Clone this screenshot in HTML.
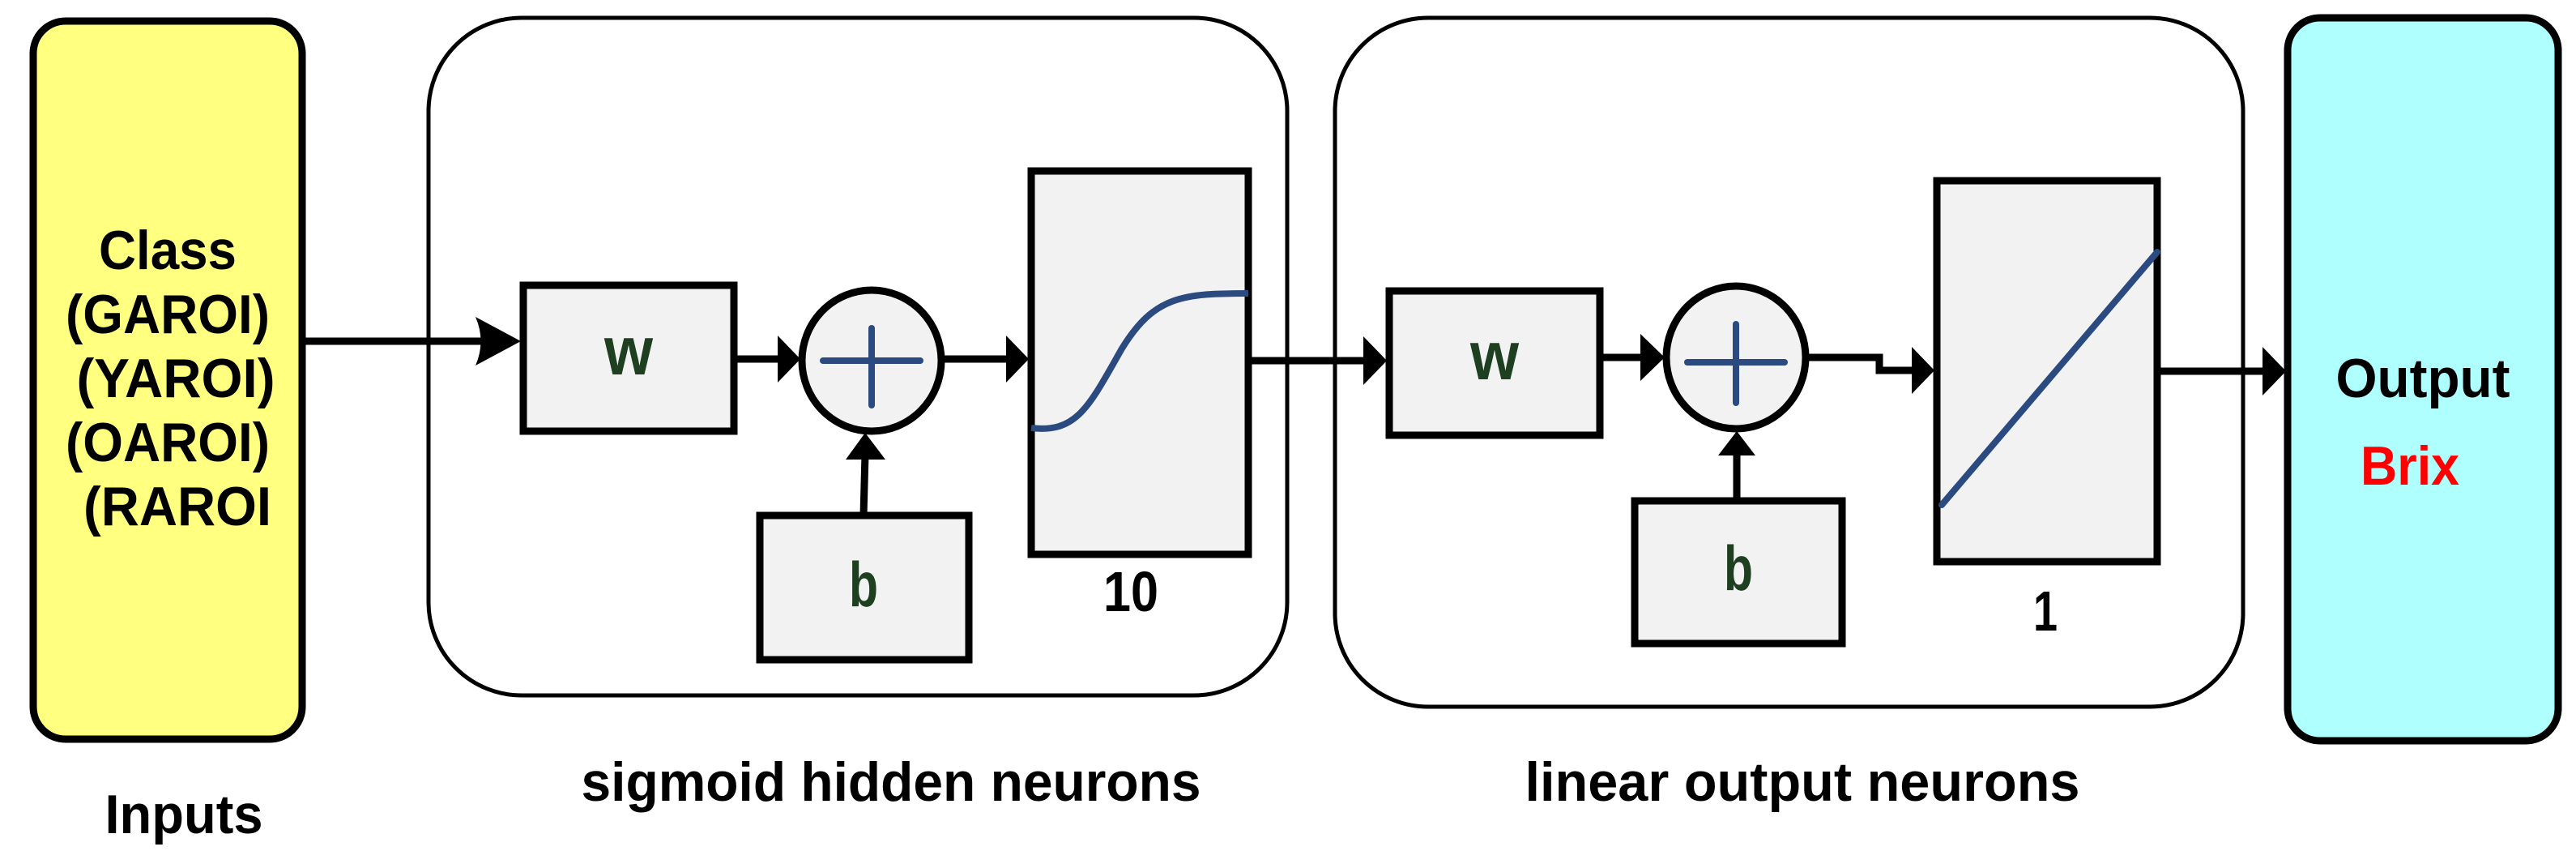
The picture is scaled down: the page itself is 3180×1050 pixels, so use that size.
<!DOCTYPE html>
<html><head><style>html,body{margin:0;padding:0;background:#fff}svg{display:block}</style></head>
<body>
<svg width="3180" height="1050" viewBox="0 0 3180 1050" xmlns="http://www.w3.org/2000/svg" font-family="Liberation Sans, Arial, sans-serif" font-weight="bold">
<!-- Input box -->
<rect x="41" y="26" width="332" height="886" rx="40" fill="#ffff80" stroke="#000" stroke-width="9"/>
<g font-size="68" text-anchor="middle" fill="#000">
<text x="207" y="332" textLength="170" lengthAdjust="spacingAndGlyphs">Class</text>
<text x="207" y="411" textLength="252" lengthAdjust="spacingAndGlyphs">(GAROI)</text>
<text x="217" y="490" textLength="245" lengthAdjust="spacingAndGlyphs">(YAROI)</text>
<text x="207" y="569" textLength="252" lengthAdjust="spacingAndGlyphs">(OAROI)</text>
<text x="219" y="648" textLength="232" lengthAdjust="spacingAndGlyphs">(RAROI</text>
<text x="227" y="1028" textLength="195" lengthAdjust="spacingAndGlyphs">Inputs</text>
<text x="1100" y="988" textLength="765" lengthAdjust="spacingAndGlyphs">sigmoid hidden neurons</text>
<text x="2225" y="988" textLength="685" lengthAdjust="spacingAndGlyphs">linear output neurons</text>
</g>
<!-- containers -->
<rect x="529" y="22" width="1060" height="836" rx="115" fill="none" stroke="#000" stroke-width="5"/>
<rect x="1648" y="22" width="1121" height="850" rx="115" fill="none" stroke="#000" stroke-width="5"/>
<!-- Output box -->
<rect x="2824" y="22" width="334" height="892" rx="40" fill="#b0ffff" stroke="#000" stroke-width="9"/>
<text x="2991" y="490" font-size="68" text-anchor="middle" textLength="215" lengthAdjust="spacingAndGlyphs">Output</text>
<text x="2975" y="598" font-size="68" text-anchor="middle" fill="#ff0000" textLength="122" lengthAdjust="spacingAndGlyphs">Brix</text>

<!-- hidden layer -->
<line x1="373" y1="421" x2="600" y2="421" stroke="#000" stroke-width="9"/>
<path d="M643 421 L587 391 Q600 421 587 451 Z" fill="#000"/>
<rect x="646" y="352" width="260" height="180" fill="#f2f2f2" stroke="#000" stroke-width="9"/>
<text x="776" y="462" font-size="84" text-anchor="middle" fill="#1e4020" textLength="60" lengthAdjust="spacingAndGlyphs">w</text>
<line x1="906" y1="443" x2="960" y2="443" stroke="#000" stroke-width="9"/>
<path d="M988 443 L960 414 L960 472 Z" fill="#000"/>
<ellipse cx="1076" cy="445" rx="86" ry="87" fill="#f2f2f2" stroke="#000" stroke-width="9"/>
<line x1="1016" y1="445" x2="1136" y2="445" stroke="#2a4a80" stroke-width="8" stroke-linecap="round"/>
<line x1="1076" y1="405" x2="1076" y2="500" stroke="#2a4a80" stroke-width="8" stroke-linecap="round"/>
<rect x="938" y="636" width="258" height="178" fill="#f2f2f2" stroke="#000" stroke-width="9"/>
<text x="1066" y="748" font-size="78" text-anchor="middle" fill="#1e4020" textLength="36" lengthAdjust="spacingAndGlyphs">b</text>
<line x1="1066" y1="636" x2="1068" y2="560" stroke="#000" stroke-width="9"/>
<path d="M1068 534 L1044 567 L1093 567 Z" fill="#000"/>
<line x1="1163" y1="443" x2="1242" y2="443" stroke="#000" stroke-width="9"/>
<path d="M1270 443 L1242 414 L1242 472 Z" fill="#000"/>
<rect x="1273" y="211" width="268" height="473" fill="#f2f2f2" stroke="#000" stroke-width="9"/>
<path d="M1273 528 C1330 535 1345 500 1385 430 C1425 365 1460 362 1541 362" fill="none" stroke="#2a4a80" stroke-width="8"/>
<text x="1396" y="754" font-size="70" text-anchor="middle" textLength="68" lengthAdjust="spacingAndGlyphs">10</text>

<!-- output layer -->
<line x1="1541" y1="445" x2="1686" y2="445" stroke="#000" stroke-width="9"/>
<path d="M1712 445 L1683 415 L1683 475 Z" fill="#000"/>
<rect x="1715" y="359" width="260" height="178" fill="#f2f2f2" stroke="#000" stroke-width="9"/>
<text x="1845" y="468" font-size="84" text-anchor="middle" fill="#1e4020" textLength="60" lengthAdjust="spacingAndGlyphs">w</text>
<line x1="1975" y1="441" x2="2027" y2="441" stroke="#000" stroke-width="9"/>
<path d="M2055 441 L2025 412 L2025 470 Z" fill="#000"/>
<ellipse cx="2143" cy="441" rx="86" ry="88" fill="#f2f2f2" stroke="#000" stroke-width="9"/>
<line x1="2083" y1="447" x2="2203" y2="447" stroke="#2a4a80" stroke-width="8" stroke-linecap="round"/>
<line x1="2143" y1="400" x2="2143" y2="497" stroke="#2a4a80" stroke-width="8" stroke-linecap="round"/>
<rect x="2018" y="618" width="256" height="176" fill="#f2f2f2" stroke="#000" stroke-width="9"/>
<text x="2146" y="728" font-size="78" text-anchor="middle" fill="#1e4020" textLength="36" lengthAdjust="spacingAndGlyphs">b</text>
<line x1="2144" y1="618" x2="2144" y2="555" stroke="#000" stroke-width="9"/>
<path d="M2144 532 L2121 562 L2167 562 Z" fill="#000"/>
<path d="M2229 441 L2320 441 L2320 457 L2362 457" fill="none" stroke="#000" stroke-width="9"/>
<path d="M2388 457 L2360 428 L2360 486 Z" fill="#000"/>
<rect x="2391" y="223" width="272" height="470" fill="#f2f2f2" stroke="#000" stroke-width="9"/>
<line x1="2397" y1="623" x2="2663" y2="311" stroke="#2a4a80" stroke-width="8" stroke-linecap="round"/>
<text x="2525" y="778" font-size="70" text-anchor="middle" textLength="30" lengthAdjust="spacingAndGlyphs">1</text>
<line x1="2663" y1="458" x2="2796" y2="458" stroke="#000" stroke-width="9"/>
<path d="M2822 458 L2793 428 L2793 488 Z" fill="#000"/>
</svg>
</body></html>
